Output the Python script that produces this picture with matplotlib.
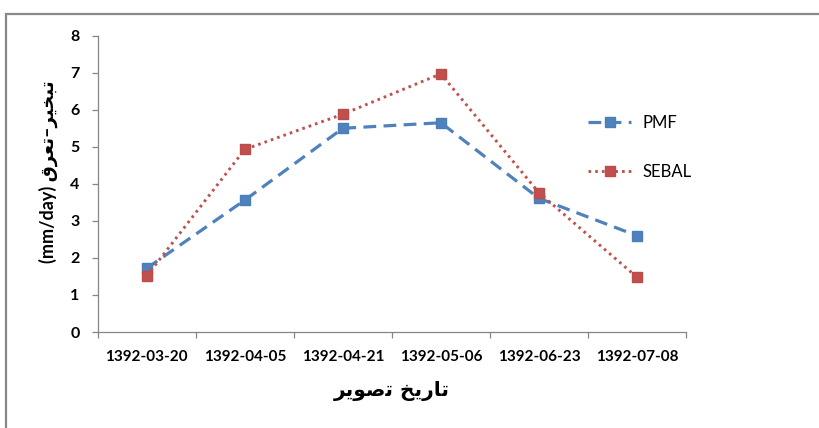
import matplotlib
matplotlib.use('Agg')
import matplotlib.pyplot as plt
from matplotlib.patches import Rectangle

# data
dates = ['1392-03-20', '1392-04-05', '1392-04-21', '1392-05-06', '1392-06-23', '1392-07-08']
pmf = [1.72, 3.56, 5.50, 5.65, 3.61, 2.60]
sebal = [1.51, 4.93, 5.88, 6.97, 3.76, 1.48]

# Persian labels, written in visual order with presentation forms (no shaping engine in matplotlib)
xlabel_fa = '\uFEAE\uFBFE\uFEEE\uFEBB\uFE97 \uFEA6\uFBFE\uFEAD\uFE8E\uFE97'          # تاریخ تصویر
ylabel_fa = '(mm/day) \uFED5\uFEAE\uFECC\uFE97\u2013\uFEAE\uFBFF\uFEA8\uFE92\uFE97'  # تبخیر–تعرق (mm/day)

plt.rcParams['font.family'] = ['Lato', 'DejaVu Sans']

fig = plt.figure(figsize=(8.2, 4.28), dpi=100)
ax = fig.add_axes([97.7 / 820, 1 - 332 / 428, (686 - 97.7) / 820, (332 - 35.7) / 428])

x = range(len(dates))
ax.plot(x, pmf, color='#4F81BD', lw=2.3, dashes=(4, 2.3), marker='s', ms=7.5,
        mec='#4A7EBB', label='PMF')
ax.plot(x, sebal, color='#C0504D', lw=2.1, dashes=(0.9, 1.4), marker='s', ms=7.5,
        mec='#BE4B48', label='SEBAL')

ax.set_xlim(-0.5, len(dates) - 0.5)
ax.set_ylim(0, 8)
ax.set_yticks(range(0, 9))
ax.set_xticks(list(x))
ax.set_xticklabels(dates)
ax.set_xticks([i - 0.5 for i in range(len(dates) + 1)], minor=True)

for s in ['top', 'right']:
    ax.spines[s].set_visible(False)
for s in ['left', 'bottom']:
    ax.spines[s].set_color('#868686')
    ax.spines[s].set_linewidth(0.9)

ax.tick_params(axis='x', which='major', length=0, pad=13, labelsize=11)
ax.tick_params(axis='x', which='minor', length=4, width=0.9, color='#868686')
ax.tick_params(axis='y', length=4, width=0.9, color='#868686', pad=9, labelsize=11.5)
for lab in ax.get_xticklabels() + ax.get_yticklabels():
    lab.set_fontweight('bold')

ax.set_xlabel(xlabel_fa, fontsize=14.5, fontweight='bold', family=['DejaVu Sans'], labelpad=12)
ax.set_ylabel(ylabel_fa, fontsize=13, fontweight='bold', labelpad=14)
ax.yaxis.set_label_coords(-0.068, 0.54)

ax.legend(loc='center left', bbox_to_anchor=(588 / 820, 1 - 147.2 / 428),
          bbox_transform=fig.transFigure, frameon=False, fontsize=12,
          handlelength=2.6, handletextpad=0.7, labelspacing=2.0,
          borderpad=0, borderaxespad=0)

# outer chart-area border (runs off the right and bottom edges)
fig.add_artist(Rectangle((6 / 820, -0.1), 1.0, 1.1 - 14.5 / 428,
                         transform=fig.transFigure, fill=False,
                         ec='#888888', lw=1.6))

fig.savefig('out.png', dpi=100)
